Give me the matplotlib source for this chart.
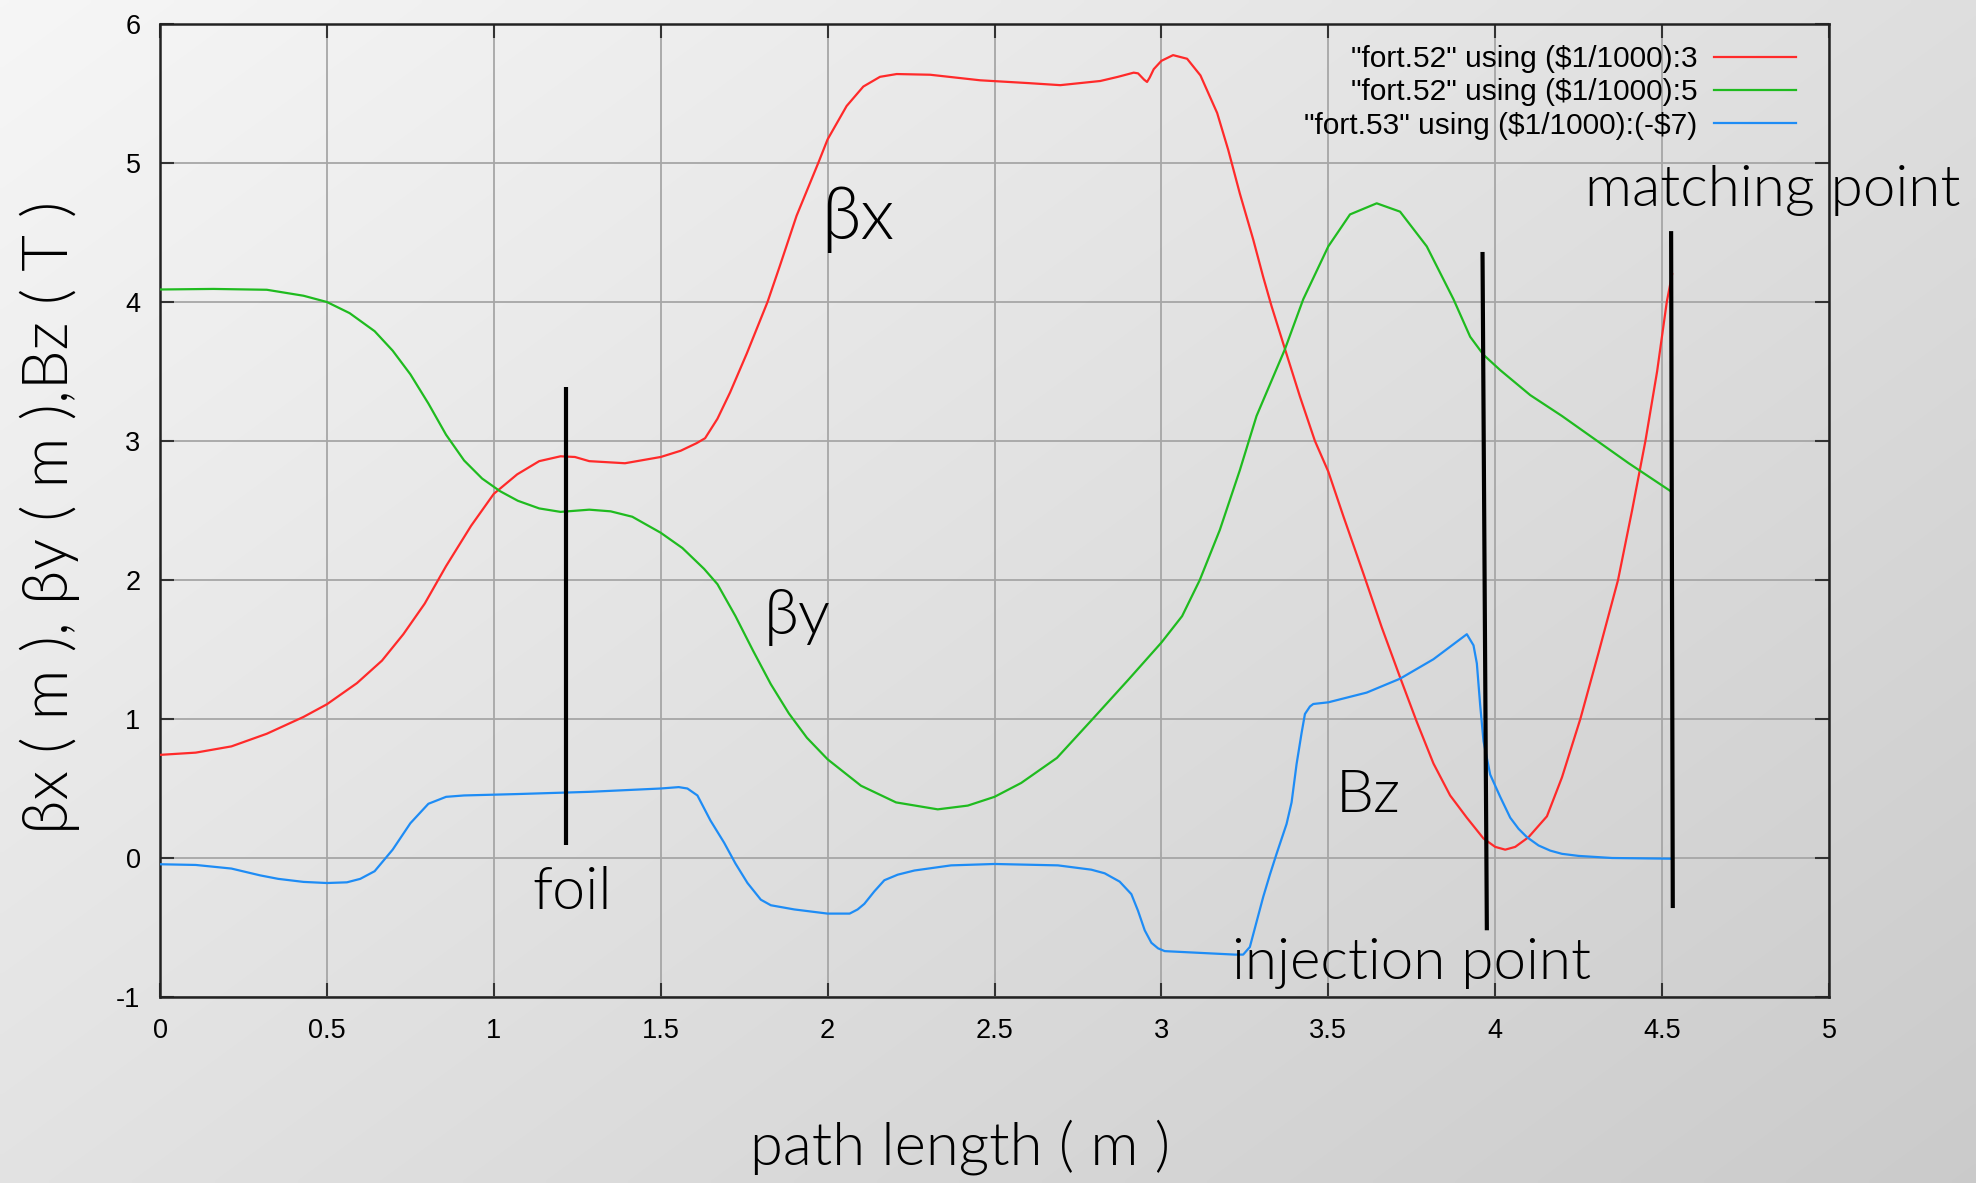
import numpy as np
import matplotlib
matplotlib.use("Agg")
import matplotlib.pyplot as plt

plt.rcParams['axes.unicode_minus'] = False

# ---------------- data ----------------
bx_s = [0, 0.107, 0.214, 0.32, 0.43, 0.5, 0.59, 0.665, 0.729, 0.793, 0.857, 0.932, 1.0,
        1.07, 1.136, 1.2, 1.243, 1.286, 1.393, 1.5, 1.56, 1.608, 1.633, 1.67, 1.708, 1.758,
        1.82, 1.857, 1.907, 1.972, 2.0, 2.057, 2.107, 2.157, 2.207, 2.307, 2.457, 2.6, 2.697,
        2.817, 2.87, 2.917, 2.93, 2.948, 2.957, 2.965, 2.977, 3.0, 3.035, 3.077, 3.117, 3.167,
        3.2, 3.235, 3.275, 3.305, 3.33, 3.373, 3.415, 3.46, 3.5, 3.545, 3.606, 3.66, 3.715,
        3.765, 3.815, 3.865, 3.915, 3.965, 4.0, 4.03, 4.06, 4.1, 4.155, 4.2, 4.255, 4.31,
        4.368, 4.41, 4.45, 4.485, 4.514, 4.53]
bx_v = [0.742, 0.758, 0.803, 0.894, 1.015, 1.106, 1.258, 1.42, 1.61, 1.83, 2.1, 2.39, 2.62,
        2.76, 2.855, 2.89, 2.885, 2.855, 2.84, 2.885, 2.93, 2.985, 3.02, 3.16, 3.35, 3.63,
        4.0, 4.26, 4.62, 5.0, 5.17, 5.41, 5.55, 5.62, 5.64, 5.635, 5.595, 5.575, 5.56,
        5.59, 5.62, 5.65, 5.645, 5.60, 5.583, 5.615, 5.675, 5.735, 5.776, 5.75, 5.63, 5.36,
        5.096, 4.78, 4.45, 4.18, 3.97, 3.64, 3.32, 3.0, 2.78, 2.46, 2.04, 1.66, 1.30,
        0.98, 0.68, 0.45, 0.29, 0.14, 0.08, 0.06, 0.08, 0.15, 0.30, 0.58, 1.0, 1.48,
        2.0, 2.5, 3.0, 3.5, 4.0, 4.2]

by_s = [0, 0.16, 0.32, 0.43, 0.5, 0.568, 0.643, 0.697, 0.75, 0.804, 0.857, 0.911, 0.965,
        1.018, 1.072, 1.136, 1.2, 1.286, 1.35, 1.415, 1.5, 1.565, 1.63, 1.67, 1.724, 1.777,
        1.83, 1.884, 1.938, 2.0, 2.1, 2.205, 2.33, 2.42, 2.5, 2.58, 2.687, 2.794, 2.9, 3.0,
        3.062, 3.115, 3.175, 3.235, 3.285, 3.37, 3.425, 3.5, 3.565, 3.645, 3.715, 3.795,
        3.875, 3.925, 3.965, 4.015, 4.105, 4.2, 4.3, 4.4, 4.525]
by_v = [4.09, 4.094, 4.088, 4.045, 4.0, 3.92, 3.79, 3.65, 3.48, 3.27, 3.045, 2.86, 2.73,
        2.64, 2.57, 2.515, 2.49, 2.506, 2.494, 2.455, 2.34, 2.23, 2.08, 1.97, 1.74, 1.49,
        1.25, 1.04, 0.865, 0.71, 0.52, 0.40, 0.35, 0.377, 0.44, 0.54, 0.72, 1.0, 1.28, 1.55,
        1.74, 2.0, 2.36, 2.79, 3.18, 3.66, 4.02, 4.40, 4.63, 4.71, 4.65, 4.40,
        4.02, 3.75, 3.62, 3.51, 3.33, 3.18, 3.01, 2.84, 2.64]

bz_s = [0, 0.107, 0.214, 0.3, 0.354, 0.43, 0.5, 0.56, 0.6, 0.643, 0.697, 0.75, 0.804, 0.857,
        0.911, 1.07, 1.286, 1.5, 1.554, 1.58, 1.61, 1.649, 1.69, 1.724, 1.76, 1.8, 1.83, 1.9,
        2.0, 2.066, 2.09, 2.11, 2.14, 2.17, 2.21, 2.26, 2.37, 2.5, 2.69, 2.79, 2.83, 2.875,
        2.91, 2.93, 2.95, 2.97, 2.99, 3.01, 3.22, 3.245, 3.265, 3.285, 3.305, 3.325, 3.345,
        3.375, 3.39, 3.405, 3.42, 3.43, 3.445, 3.455, 3.5, 3.615, 3.715, 3.815, 3.915, 3.935,
        3.945, 3.955, 3.965, 3.985, 4.015, 4.045, 4.07, 4.095, 4.13, 4.165, 4.2, 4.25, 4.35,
        4.53]
bz_v = [-0.045, -0.05, -0.076, -0.125, -0.15, -0.172, -0.18, -0.175, -0.15, -0.095, 0.06,
        0.25, 0.39, 0.44, 0.45, 0.46, 0.476, 0.50, 0.51, 0.50, 0.45, 0.27, 0.11, -0.04, -0.18,
        -0.30, -0.34, -0.37, -0.40, -0.40, -0.37, -0.33, -0.24, -0.16, -0.12, -0.09, -0.053,
        -0.043, -0.053, -0.084, -0.11, -0.17, -0.26, -0.38, -0.52, -0.61, -0.65, -0.67, -0.695,
        -0.695, -0.64, -0.46, -0.28, -0.12, 0.03, 0.245, 0.40, 0.676, 0.90, 1.036, 1.09, 1.108,
        1.12, 1.19, 1.29, 1.43, 1.61, 1.53, 1.40, 1.10, 0.84, 0.60, 0.44, 0.29, 0.21, 0.15,
        0.09, 0.053, 0.03, 0.015, 0.0, -0.005]

legend_labels = ['"fort.52" using ($1/1000):3',
                 '"fort.52" using ($1/1000):5',
                 '"fort.53" using ($1/1000):(-$7)']

# marker lines: (x_top, y_top, x_bottom, y_bottom)
foil_line = [1.217, 3.39, 1.217, 0.09]
inj_line = [3.962, 4.36, 3.975, -0.52]
match_line = [4.527, 4.51, 4.532, -0.36]

xticks = [0, 0.5, 1, 1.5, 2, 2.5, 3, 3.5, 4, 4.5, 5]
xticklabels = ['0', '0.5', '1', '1.5', '2', '2.5', '3', '3.5', '4', '4.5', '5']
yticks = [-1, 0, 1, 2, 3, 4, 5, 6]

# ---------------- figure ----------------
W, H = 1976, 1183
fig = plt.figure(figsize=(W / 100, H / 100), dpi=100)

# gradient background
bg = fig.add_axes([0, 0, 1, 1], zorder=-10)
gx = np.linspace(0, 1, 400)
gy = np.linspace(0, 1, 240)
GX, GY = np.meshgrid(gx, gy)
g = 0.965 - 0.17 * (0.55 * GX + 0.45 * GY)
bg.imshow(np.dstack([g, g, g]), aspect='auto', extent=[0, 1, 1, 0], interpolation='bilinear')
bg.set_axis_off()

ax = fig.add_axes([160 / W, 1 - 997 / H, (1829 - 160) / W, (997 - 24) / H])
ax.set_facecolor('none')

tick_font = 'Liberation Sans'
ann_font = ['Lato', 'DejaVu Sans']
ann_weight = 300

def esc(s):
    return s.replace('$', r'\$')

ax.plot(bx_s, bx_v, color='#ff2a2a', lw=1.6, label=esc(legend_labels[0]), zorder=3)
ax.plot(by_s, by_v, color='#1fbb1f', lw=1.6, label=esc(legend_labels[1]), zorder=3)
ax.plot(bz_s, bz_v, color='#1e8cf5', lw=1.6, label=esc(legend_labels[2]), zorder=3)

for ln in (foil_line, inj_line, match_line):
    ax.plot([ln[0], ln[2]], [ln[1], ln[3]], color='black', lw=3, zorder=4,
            solid_capstyle='butt')

ax.set_xlim(0, 5)
ax.set_ylim(-1, 6)
ax.set_xticks(xticks)
ax.set_xticklabels(xticklabels)
ax.set_yticks(yticks)
ax.grid(True, color='#a6a6a6', lw=1.3, zorder=1)
ax.set_axisbelow(True)
ax.tick_params(direction='in', length=10, width=1.5, top=True, right=True,
               labelsize=19.5, color='#333333')
ax.tick_params(axis='x', pad=15)
ax.tick_params(axis='y', pad=14)
for lab in ax.get_xticklabels() + ax.get_yticklabels():
    lab.set_fontfamily(tick_font)
for sp in ax.spines.values():
    sp.set_linewidth(1.8)
    sp.set_color('#222222')

leg = ax.legend(loc='upper right', bbox_to_anchor=((1796 - 160) / 1669, (997 - 45) / 973),
                markerfirst=False, frameon=False, handlelength=2.75, handletextpad=0.55,
                labelspacing=0.18, borderpad=0, borderaxespad=0,
                prop={'family': tick_font, 'size': 21.5})
for t in leg.get_texts():
    t.set_ha('right')

# annotations
ann_kw = dict(fontfamily=ann_font, fontweight=ann_weight, color='black', ha='center',
              va='center', zorder=5, clip_on=False)
ax.text(2.09, 4.59, 'βx', fontsize=52, **ann_kw)
ax.text(1.91, 1.73, 'βy', fontsize=46, **ann_kw)
ax.text(1.234, -0.245, 'foil', fontsize=42.5, **ann_kw)
ax.text(3.62, 0.45, 'Bz', fontsize=43.5, **ann_kw)
ax.text(3.75, -0.76, 'injection point', fontsize=42, **ann_kw)
ax.text(4.83, 4.80, 'matching point', fontsize=42, **ann_kw)

fig.text(50 / W, 1 - 517 / H, 'βx ( m ), βy ( m ),Bz ( T )', rotation=90,
         fontsize=45.5, fontfamily=ann_font, fontweight=ann_weight, ha='center', va='center')
fig.text(960 / W, 1 - 1147 / H, 'path length ( m )', fontsize=43, fontfamily=ann_font,
         fontweight=ann_weight, ha='center', va='center')

fig.savefig('out.png', dpi=100)
